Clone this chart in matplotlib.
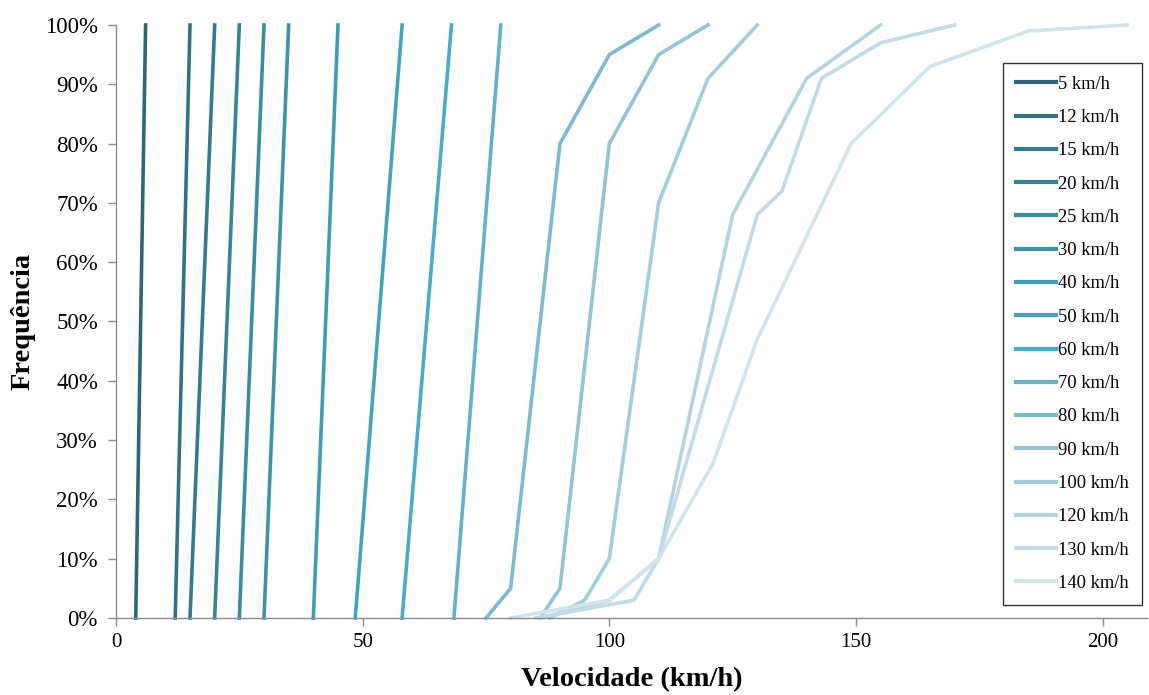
import matplotlib
matplotlib.use("Agg")
import matplotlib.pyplot as plt
from matplotlib.ticker import FuncFormatter, MultipleLocator

plt.rcParams['font.family'] = ['Liberation Serif', 'DejaVu Serif']

# Cumulative speed distributions per speed class
labels = ["5 km/h", "12 km/h", "15 km/h", "20 km/h", "25 km/h", "30 km/h",
          "40 km/h", "50 km/h", "60 km/h", "70 km/h", "80 km/h", "90 km/h",
          "100 km/h", "120 km/h", "130 km/h", "140 km/h"]

speeds = [
    [4, 6],
    [12, 15],
    [15, 20],
    [20, 25],
    [25, 30],
    [30, 35],
    [40, 45],
    [48.5, 58],
    [58, 68],
    [68.5, 78],
    [75, 80, 90, 100, 110],
    [86, 90, 100, 110, 120],
    [88, 95, 100, 110, 120, 130],
    [86, 100, 110, 125, 140, 155],
    [85, 105, 110, 130, 135, 143, 155, 170],
    [80, 100, 110, 121, 130, 149, 165, 185, 205],
]

freqs = [
    [0, 100],
    [0, 100],
    [0, 100],
    [0, 100],
    [0, 100],
    [0, 100],
    [0, 100],
    [0, 100],
    [0, 100],
    [0, 100],
    [0, 5, 80, 95, 100],
    [0, 5, 80, 95, 100],
    [0, 3, 10, 70, 91, 100],
    [0, 3, 10, 68, 91, 100],
    [0, 3, 10, 68, 72, 91, 97, 100],
    [0, 3, 10, 26, 47, 80, 93, 99, 100],
]

colors = ["#2d6878", "#2f7385", "#327c8f", "#358597", "#388da0", "#3b95a9",
          "#3e9db3", "#42a5bd", "#47adc9", "#63b2c9", "#7cbacd", "#92c4d4",
          "#a4cdda", "#b3d4df", "#c2dce5", "#d2e4eb"]

fig = plt.figure(figsize=(11.49, 6.95), dpi=100)
ax = fig.add_axes([116 / 1149, 77 / 695, (1147 - 116) / 1149, (618 - 25) / 695])

for x, y, c, lab in zip(speeds, freqs, colors, labels):
    ax.plot(x, [v / 100 for v in y], color=c, lw=2.6, label=lab,
            solid_joinstyle='miter', clip_on=False)

ax.set_xlim(0, 209)
ax.set_ylim(0, 1)
ax.xaxis.set_major_locator(MultipleLocator(50))
ax.yaxis.set_major_locator(MultipleLocator(0.1))
ax.yaxis.set_major_formatter(FuncFormatter(lambda v, p: f"{round(v * 100)}%"))

for s in ("top", "right"):
    ax.spines[s].set_visible(False)
for s in ("left", "bottom"):
    ax.spines[s].set_color("#8c8c8c")
    ax.spines[s].set_linewidth(1.0)
ax.tick_params(axis="both", direction="out", length=6, width=1.0,
               color="#8c8c8c", labelcolor="black")
ax.tick_params(axis="x", pad=5, labelsize=15)
ax.tick_params(axis="y", pad=7, labelsize=16.5)

ax.set_xlabel("Velocidade (km/h)", fontsize=20.5, fontweight="bold", labelpad=10.5)
ax.set_ylabel("Frequência", fontsize=20.5, fontweight="bold", labelpad=7)

leg = fig.legend(loc="upper left", bbox_to_anchor=(1003 / 1149, 1 - 63 / 695),
                 borderaxespad=0, fontsize=13.3, frameon=True, fancybox=False,
                 edgecolor="black", handlelength=2.15, handletextpad=0.12,
                 labelspacing=0.88, borderpad=0.7)
leg.get_frame().set_linewidth(1.0)
for h in leg.get_lines():
    h.set_linewidth(3.0)

fig.savefig("out.png", dpi=100, facecolor="white")
